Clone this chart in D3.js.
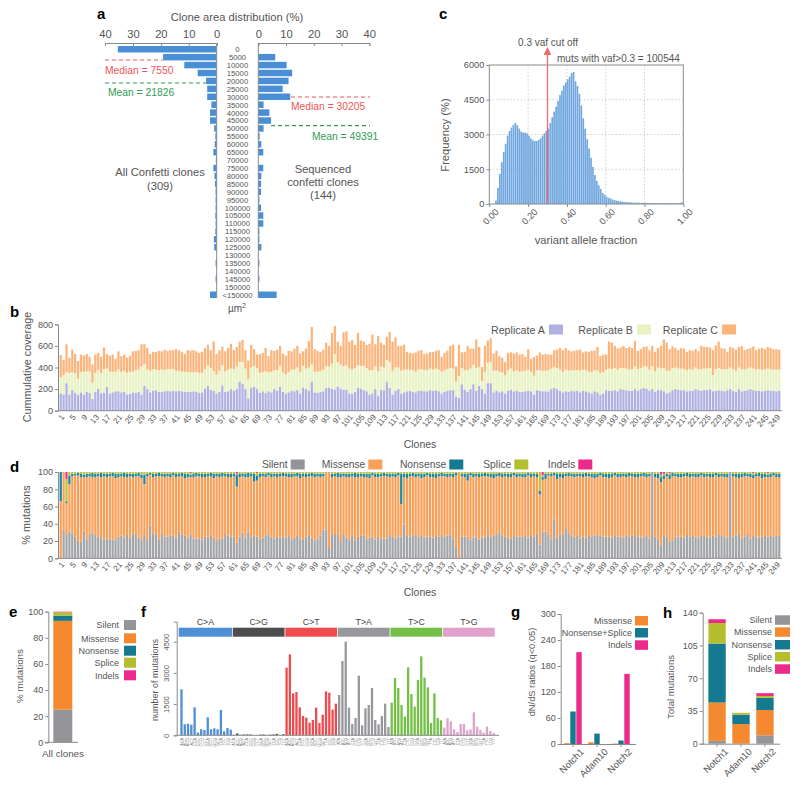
<!DOCTYPE html>
<html><head><meta charset="utf-8">
<script src="https://cdn.jsdelivr.net/npm/d3@7"></script>
<style>body{margin:0;background:#fff}svg{display:block}</style>
</head><body><svg id="fig" width="800" height="791"></svg>
<script>
// ================= DATA =================
// Panel a
const areaBins = ["0","5000","10000","15000","20000","25000","30000","35000","40000","45000","50000","55000","60000","65000","70000","75000","80000","85000","90000","95000","100000","105000","110000","115000","120000","125000","130000","135000","140000","145000","150000","<150000"];
const areaAll = [35.4,19.2,11.6,6.8,3.8,3.4,3.4,1.9,2.4,2.4,0.9,0.5,0.7,1.2,0.3,1.2,0.8,0.6,0.4,0.4,0.4,0.5,0.4,0.5,1.0,0.9,0,0.4,0,0.4,0,2.4];
const areaSeq = [0,6.1,10.2,12.2,10.9,8.8,11.5,1.9,4.0,4.6,1.9,0.5,1.1,1.8,0,1.8,1.1,1.0,1.0,0.4,1.0,1.8,1.8,0.4,0.4,1.1,0,0.4,0,0.4,0,6.6];
const areaTicks = [0,10,20,30,40];

// Panel c
const vafFreq = [0,0,0,150,700,1300,1800,2250,2600,2950,3150,3300,3420,3500,3400,3250,3120,3080,3080,3050,
2950,2830,2750,2720,2720,2760,2830,2950,3050,3150,3250,3500,3750,3990,4200,4450,4700,4900,5120,5250,
5380,5500,5650,5700,5300,5100,4750,4250,3700,3250,2800,2400,2000,1600,1250,1000,800,650,480,400,
320,270,240,200,170,150,130,110,100,90,80,75,70,65,60,60,55,55,50,50,
50,48,46,45,44,42,40,40,40,40,38,38,36,36,35,35,35,38,45,70];
const vafYTicks = [0,1500,3000,4500,6000];
const vafXTicks = [0,0.2,0.4,0.6,0.8,1.0];

// Panel b (coverage per replicate, clones 1..250)
const repA = [160,150,255,150,190,165,145,170,150,175,165,110,175,205,160,165,220,160,170,180,
180,170,175,150,155,170,165,175,150,230,200,170,185,190,175,175,180,185,180,185,
180,185,180,175,175,175,180,175,165,170,205,230,195,185,160,175,235,175,180,200,
185,200,270,250,200,115,210,220,205,165,180,165,180,170,200,185,220,175,160,170,
185,180,190,160,215,200,185,270,170,165,175,180,210,215,200,195,225,205,195,195,
160,155,175,210,205,190,180,150,160,200,135,195,190,270,210,150,185,200,160,170,
180,185,175,170,185,185,180,180,190,185,190,180,160,175,185,190,190,130,120,245,
195,175,200,245,185,230,200,160,255,255,170,185,170,180,160,185,195,180,185,175,
175,180,185,180,150,190,185,180,180,180,200,210,200,185,170,180,175,185,180,185,
170,185,180,170,160,180,170,150,160,190,185,185,190,180,200,195,190,185,185,200,
185,200,210,205,185,200,175,195,190,180,160,170,190,200,195,190,190,180,185,185,
200,190,185,195,190,200,180,185,190,185,180,190,200,185,175,200,180,185,190,200,
190,185,185,180,185,190,185,185,180,185];
const repB = [150,180,100,200,165,180,150,190,210,190,200,150,175,170,190,220,170,200,190,180,
200,190,195,200,205,190,210,205,260,200,180,200,200,190,200,205,195,200,205,200,
190,185,180,185,180,180,175,185,185,180,180,190,200,180,175,195,185,190,200,190,
200,210,180,200,190,175,190,195,190,185,175,200,175,190,175,190,195,180,175,190,
195,200,210,200,200,190,215,160,190,195,190,200,200,195,235,330,225,220,215,225,
230,225,220,210,210,225,215,225,215,210,230,215,210,200,240,220,215,200,210,210,
200,195,200,190,195,200,195,195,200,195,200,200,200,195,200,205,200,140,200,150,
180,200,190,180,210,175,75,200,190,195,200,185,190,175,170,190,195,185,190,185,
190,190,195,180,175,185,190,190,190,195,190,195,195,195,190,200,195,190,195,190,
200,195,195,190,195,195,200,200,195,190,205,200,205,200,195,200,200,195,200,210,
200,195,200,205,195,210,190,205,200,215,210,200,205,200,195,200,195,195,200,195,
200,195,200,195,200,195,150,200,205,200,200,195,200,200,195,200,205,195,200,200,
200,195,200,200,195,200,200,195,200,195];
const repC = [205,140,260,140,210,180,165,160,150,160,135,170,170,160,150,200,135,150,160,120,
170,145,150,140,150,190,180,180,205,185,200,155,160,165,180,170,190,170,175,175,
200,190,185,165,205,200,205,190,185,195,195,190,165,275,190,190,175,185,200,230,
175,180,190,205,170,175,210,155,125,175,180,215,150,200,180,190,185,175,175,195,
170,195,200,170,135,185,245,345,210,195,180,185,220,190,285,260,190,175,315,315,
250,275,215,300,235,225,215,245,330,205,325,220,210,215,280,270,280,200,230,230,
165,155,155,180,175,175,150,155,155,165,165,180,140,165,170,205,220,140,290,145,
170,225,185,150,265,185,130,240,205,220,160,185,145,135,120,160,150,165,165,160,
160,130,190,120,170,135,165,150,155,145,130,155,170,200,200,200,190,175,180,185,
195,160,175,185,200,180,220,155,165,140,250,245,205,195,190,205,190,210,195,235,
170,175,180,185,180,190,180,180,210,265,260,200,200,180,170,190,190,170,175,175,
170,165,215,200,200,190,230,220,245,195,195,160,190,195,195,190,215,180,180,180,
205,180,190,200,190,200,195,190,190,185];
const covTicks = [0,200,400,600,800];

// Panel d (% of mutations per clone)
const pSilent = [0,33,27,31,29,25,20,19,31,22,27,30,28,25,23,22,23,22,21,22,
25,26,24,28,24,28,28,24,22,28,21,38,28,27,22,29,25,25,26,26,
24,31,27,26,24,28,23,23,23,22,25,25,26,24,20,23,23,28,26,25,
25,18,25,30,24,31,25,26,25,23,24,26,27,25,23,25,24,25,24,26,
22,24,26,23,22,25,26,24,20,23,26,33,33,12,28,27,28,20,27,24,
22,26,21,25,26,26,23,24,25,22,25,23,23,23,27,25,23,25,25,39,
26,25,26,27,25,26,24,25,25,24,26,25,27,25,26,28,23,13,0,25,
25,25,22,24,25,22,24,25,27,25,26,28,30,26,25,24,23,26,25,25,
25,26,24,26,25,28,16,31,31,27,22,45,24,28,28,35,30,26,25,26,
23,25,24,26,25,26,27,26,25,25,25,24,26,25,25,24,26,25,26,27,
25,24,25,26,23,100,25,22,15,26,25,19,20,25,25,25,24,27,25,26,
25,24,26,26,25,24,26,25,27,26,25,24,100,25,26,29,24,25,28,23,
26,25,24,25,26,25,26,25,26,26];
const pMissense = [66,67,37,55,66,71,76,75,63,72,68,64,66,70,71,73,71,73,74,71,
69,69,70,66,71,66,67,71,71,58,74,59,66,68,73,66,69,70,68,70,
70,64,68,67,70,66,71,72,72,72,69,70,69,69,75,71,72,67,68,69,
70,65,69,65,70,63,70,63,65,71,71,68,69,69,72,69,71,70,71,68,
72,71,69,70,73,69,69,71,74,72,68,62,67,88,66,68,66,74,68,70,
72,69,73,69,69,68,71,69,71,72,69,72,72,72,67,70,71,71,38,55,
67,70,69,67,70,67,70,71,69,70,67,70,68,70,68,67,71,83,100,70,
69,65,74,70,70,72,71,70,68,69,67,67,65,68,70,70,71,70,69,70,
69,68,72,68,70,66,58,60,61,69,73,51,68,66,65,60,65,69,69,69,
72,69,71,69,69,67,67,70,69,69,68,70,70,69,69,71,68,70,69,67,
69,71,70,68,72,0,69,71,73,66,70,73,75,70,69,69,71,68,69,69,
69,70,70,68,70,70,68,71,67,69,69,70,0,70,68,64,70,70,67,71,
67,70,71,68,68,69,68,71,68,68];
const pNonsense = [34,0,2,10,3,2,3,4,3,4,3,5,4,3,5,3,4,3,4,5,
4,3,5,4,3,4,3,4,4,11,3,2,4,3,4,3,4,3,4,3,
4,3,4,5,4,3,4,4,3,4,4,3,4,5,3,4,4,3,4,4,
3,14,4,3,4,5,3,9,6,4,3,4,3,4,3,4,3,4,3,4,
4,3,4,5,3,4,3,4,4,3,4,3,0,0,4,3,5,4,3,4,
4,3,5,4,3,4,4,5,3,4,4,3,4,3,4,3,4,3,35,4,
5,3,4,4,3,5,4,3,4,4,5,3,4,3,4,3,4,3,0,3,
4,8,3,4,3,4,3,4,3,4,5,3,4,4,3,4,4,3,4,3,
4,4,3,4,3,4,4,3,6,2,3,3,6,4,5,3,4,3,4,3,
3,4,4,3,4,5,4,3,4,4,5,4,3,4,4,3,4,4,3,4,
4,3,4,4,3,0,4,5,6,4,3,5,4,3,4,4,3,4,4,3,
4,4,3,4,3,4,4,3,4,3,4,4,0,3,4,5,4,4,3,4,
4,3,4,5,4,3,4,3,4,4];
const pSplice = [0,0,26,4,2,2,1,2,3,2,2,1,2,2,1,2,2,2,1,2,
2,2,1,2,2,2,2,1,3,3,2,1,2,2,1,2,2,2,2,1,
2,2,1,2,2,2,2,1,2,2,2,2,1,2,2,2,1,2,2,2,
2,1,2,2,2,1,2,2,3,2,2,2,1,2,2,2,2,1,2,2,
2,2,1,2,2,2,2,1,2,2,2,2,0,0,2,2,1,2,2,2,
2,2,1,2,2,2,2,2,1,2,2,2,1,2,2,2,2,1,2,2,
2,2,1,2,2,2,2,1,2,2,2,2,1,2,2,2,2,1,0,2,
2,2,1,2,2,2,2,1,2,2,2,2,1,2,2,2,2,1,2,2,
2,2,1,2,2,2,22,2,2,2,2,1,2,2,2,2,1,2,2,2,
2,2,1,2,2,2,2,1,2,2,2,2,1,2,2,2,2,1,2,2,
2,2,1,2,2,0,2,2,3,2,2,2,1,2,2,2,2,1,2,2,
2,2,1,2,2,2,2,1,2,2,2,2,0,2,2,2,2,1,2,2,
2,2,1,2,2,2,2,1,2,2];
const pIndels = [0,0,8,0,0,0,0,0,0,0,0,0,0,0,0,0,0,0,0,0,
0,0,0,0,0,0,0,0,0,0,0,0,0,0,0,0,0,0,0,0,
0,0,0,0,0,1,0,0,0,0,0,0,0,0,0,0,0,0,0,0,
0,2,0,0,0,0,0,0,1,0,0,0,0,0,0,0,0,0,0,0,
0,0,0,0,0,0,0,0,0,0,0,0,0,0,0,0,0,0,0,0,
0,0,0,0,0,0,0,0,0,0,0,0,0,0,0,0,0,0,0,0,
0,0,0,0,0,0,0,0,0,0,0,0,0,0,0,0,0,0,0,0,
0,0,0,0,0,0,0,0,0,0,0,0,0,0,0,0,0,0,0,0,
0,0,0,0,0,0,0,4,0,0,0,0,0,0,0,0,0,0,0,0,
0,0,0,0,0,0,0,0,0,0,0,0,0,0,0,0,0,0,0,0,
0,0,0,0,0,0,0,0,3,2,0,1,0,0,0,0,0,0,0,0,
0,0,0,0,0,0,0,0,0,0,0,0,0,0,0,0,0,0,0,0,
1,0,0,0,0,1,0,0,0,0];
const pctTicks = [0,20,40,60,80,100];
const mutTypes = ["Silent","Missense","Nonsense","Splice","Indels"];

// Panel e (all clones)
const allClones = {Silent:25, Missense:68, Nonsense:4, Splice:2.6, Indels:0.4};

// Panel f
const sbsGroups = ["C>A","C>G","C>T","T>A","T>C","T>G"];
const flank5 = ["A","C","G","T"];
const flank3 = ["A","C","G","T"];
const sbsCounts = [
2210,530,560,510,1345,130,290,256,865,290,336,290,1217,190,350,270,
20,90,20,40,40,40,10,10,30,40,10,30,40,70,10,50,
3250,3890,2017,2081,1345,929,849,608,736,1329,592,993,2113,2049,1233,1521,
1937,3570,4500,1329,544,833,2866,480,1297,1457,2273,736,528,929,1521,400,
1569,2754,2273,1457,897,3266,1985,1377,2658,3794,2770,2305,592,2017,833,720,
368,817,672,288,160,544,544,240,288,1105,416,256,128,416,208,112];
const sbsTicks = [0,1500,3000,4500];

// Panel g
const genes = ["Notch1","Adam10","Notch2"];
const dndsKeys = ["Missense","Nonsense+Splice","Indels"];
const dndsMissense = [2,4,1];
const dndsTrunc = [75,24,8];
const dndsIndels = [212,0,162];
const dndsTicks = [0,60,120,180,240,300];

// Panel h
const hSilent = [3,0,9];
const hMissense = [41,21,27];
const hNonsense = [63,10,13];
const hSplice = [22,2,2];
const hIndels = [4,0,3];
const hTicks = [0,35,70,105,140];

// ================= DRAW =================
const FONT = '"Liberation Sans", Arial, Helvetica, sans-serif';
const TC = '#555';
const svg = d3.select('#fig').attr('font-family', FONT);
svg.append('rect').attr('width',800).attr('height',791).attr('fill','#fff');

const col = {Silent:'#939598', Missense:'#f5892f', Nonsense:'#15798f', Splice:'#b5be2e', Indels:'#ec2a8b'};
const colD = {Silent:'#a3a5a8', Missense:'#f8a058', Nonsense:'#1a86a0', Splice:'#b9c23a', Indels:'#ee3593'};
const intFmt = d3.format('d');

function T(x,y,s,o={}) {
  const t = svg.append('text').attr('x',x).attr('y',y).text(s)
    .attr('font-size', o.fs||11).attr('fill', o.fill||TC)
    .attr('text-anchor', o.anchor||'start');
  if (o.bold) t.attr('font-weight','bold');
  if (o.rot !== undefined) t.attr('transform', `rotate(${o.rot},${x},${y})`);
  return t;
}
function sty(g, fs) {
  g.attr('font-family', FONT).attr('font-size', fs);
  g.selectAll('text').attr('fill', TC);
  g.selectAll('path.domain, .tick line').attr('stroke', '#8a8a8a');
}
function panelLabel(x,y,s){ T(x,y,s,{fs:15,bold:true,fill:'#000'}); }

// ---------- Panel a ----------
panelLabel(97,19,'a');
T(237,21,'Clone area distribution (%)',{fs:11.2,anchor:'middle'});
const xL = d3.scaleLinear().domain([0,40]).range([216.7,105]);
const xR = d3.scaleLinear().domain([0,40]).range([258.3,369.3]);
const yA = d3.scaleBand().domain(areaBins).range([46,298]).paddingInner(0.18);
[xL,xR].forEach(s=>{
  const g = svg.append('g').attr('transform','translate(0,43)')
    .call(d3.axisTop(s).tickValues(areaTicks).tickSize(-3).tickPadding(5));
  sty(g,11.2);
});
svg.append('g').selectAll('rect').data(areaAll).join('rect')
  .attr('x',d=>xL(d)).attr('width',d=>xL(0)-xL(d))
  .attr('y',(d,i)=>yA(areaBins[i])).attr('height',yA.bandwidth()).attr('fill','#4a8fd5');
svg.append('g').selectAll('rect').data(areaSeq).join('rect')
  .attr('x',xR(0)).attr('width',d=>xR(d)-xR(0))
  .attr('y',(d,i)=>yA(areaBins[i])).attr('height',yA.bandwidth()).attr('fill','#4a8fd5');
[xL(0),xR(0)].forEach(x=>svg.append('line').attr('x1',x).attr('x2',x).attr('y1',43).attr('y2',298).attr('stroke','#8a8a8a'));
svg.append('g').selectAll('text').data(areaBins).join('text')
  .attr('x',237.5).attr('y',d=>yA(d)+yA.bandwidth()/2+2.9).attr('text-anchor','middle')
  .attr('font-size',7.7).attr('fill',TC).text(d=>d);
const RED='#f0555a', GRN='#2f9c55';
function dash(x1,x2,y,c){svg.append('line').attr('x1',x1).attr('x2',x2).attr('y1',y).attr('y2',y).attr('stroke',c).attr('stroke-width',1.2).attr('stroke-dasharray','4,3');}
dash(105,163,60,RED); T(105,74,'Median = 7550',{fs:10.3,fill:RED});
dash(105,206,83,GRN); T(108,96,'Mean = 21826',{fs:10.3,fill:GRN});
dash(291,370,97,RED); T(291,110,'Median = 30205',{fs:10.3,fill:RED});
dash(271,370,125.7,GRN); T(312,140,'Mean = 49391',{fs:10.3,fill:GRN});
T(160,176,'All Confetti clones',{fs:11.2,anchor:'middle'});
T(160,189.5,'(309)',{fs:11.2,anchor:'middle'});
T(323,172.5,'Sequenced',{fs:11.2,anchor:'middle'});
T(323,185.5,'confetti clones',{fs:11.2,anchor:'middle'});
T(323,198.5,'(144)',{fs:11.2,anchor:'middle'});
const um = T(237,312,'µm',{fs:10,anchor:'middle'});
um.append('tspan').attr('dy',-4).attr('font-size',7).text('2');

// ---------- Panel c ----------
panelLabel(439,19,'c');
const xC = d3.scaleLinear().domain([0,1]).range([489.3,683.3]);
const yC = d3.scaleLinear().domain([0,6000]).range([204,65]);
const gridC = svg.append('g');
[0.2,0.4,0.6,0.8].forEach(v=>gridC.append('line').attr('x1',xC(v)).attr('x2',xC(v)).attr('y1',65).attr('y2',204).attr('stroke','#cfcfcf').attr('stroke-dasharray','1.5,2'));
[1500,3000,4500].forEach(v=>gridC.append('line').attr('y1',yC(v)).attr('y2',yC(v)).attr('x1',489.3).attr('x2',683.3).attr('stroke','#cfcfcf').attr('stroke-dasharray','1.5,2'));
const binW = 0.01;
svg.append('g').selectAll('rect').data(vafFreq).join('rect')
  .attr('x',(d,i)=>xC(i*binW)).attr('width',xC(binW)-xC(0)-0.25)
  .attr('y',d=>yC(d)).attr('height',d=>yC(0)-yC(d)).attr('fill','#72a8df');
svg.append('rect').attr('x',489.3).attr('y',65).attr('width',194).attr('height',139).attr('fill','none').attr('stroke','#8a8a8a');
const gcy = svg.append('g').attr('transform','translate(489.3,0)').call(d3.axisLeft(yC).tickValues(vafYTicks).tickFormat(intFmt).tickSize(3).tickPadding(2));
sty(gcy,9.2); gcy.select('.domain').remove();
const gcx = svg.append('g').attr('transform','translate(0,204)').call(d3.axisBottom(xC).tickValues(vafXTicks).tickFormat(d3.format('.2f')).tickSize(3));
sty(gcx,9.2); gcx.select('.domain').remove();
gcx.selectAll('text').attr('text-anchor','end').attr('transform','translate(3,2) rotate(-45)').attr('dy','0.35em');
svg.append('defs').append('marker').attr('id','arr').attr('viewBox','0 0 10 10').attr('refX',5).attr('refY',5)
  .attr('markerWidth',6).attr('markerHeight',6).attr('orient','auto')
  .append('path').attr('d','M0,0 L10,5 L0,10 z').attr('fill','#f06b6b');
svg.append('line').attr('x1',xC(0.3)).attr('x2',xC(0.3)).attr('y1',204).attr('y2',51).attr('stroke','#f06b6b').attr('stroke-width',1.3).attr('marker-end','url(#arr)');
T(548,45.5,'0.3 vaf cut off',{fs:10,anchor:'middle'});
T(557,61.5,'muts with vaf>0.3 = 100544',{fs:10});
T(449,135,'Frequency (%)',{fs:11.2,anchor:'middle',rot:-90});
T(586,244,'variant allele fraction',{fs:11.2,anchor:'middle'});

// ---------- Panel b ----------
panelLabel(10,317,'b');
const clones = repA.map((d,i)=>i+1);
const xB = d3.scaleBand().domain(clones).range([59.6,780.4]).paddingInner(0.22);
const yB = d3.scaleLinear().domain([0,800]).range([410.7,324.3]);
const rowsB = clones.map((c,i)=>({c, A:repA[i], B:repB[i], C:repC[i]}));
const stB = d3.stack().keys(['A','B','C'])(rowsB);
const colB = {A:'#afb1e2', B:'#e8f2c2', C:'#fcb47a'};
svg.append('g').selectAll('g').data(stB).join('g').attr('fill',s=>colB[s.key])
  .selectAll('rect').data(s=>s).join('rect')
  .attr('x',d=>xB(d.data.c)).attr('width',xB.bandwidth())
  .attr('y',d=>yB(d[1])).attr('height',d=>yB(d[0])-yB(d[1]));
const gby = svg.append('g').attr('transform','translate(58,0)').call(d3.axisLeft(yB).tickValues(covTicks).tickSize(3).tickPadding(2));
sty(gby,9);
svg.append('line').attr('x1',58).attr('x2',782).attr('y1',410.7).attr('y2',410.7).attr('stroke','#8a8a8a');
const tickClones = clones.filter(c=>(c-1)%4===0);
svg.append('g').selectAll('text').data(tickClones).join('text')
  .attr('transform',c=>`translate(${xB(c)+xB.bandwidth()/2+2},${415.5}) rotate(-50)`)
  .attr('text-anchor','end').attr('dy','0.35em').attr('font-size',8).attr('fill',TC).text(c=>c);
T(31,367,'Cummulative coverage',{fs:10.8,anchor:'middle',rot:-90});
T(420,448,'Clones',{fs:10.5,anchor:'middle'});
[['Replicate A',549,'A'],['Replicate B',637,'B'],['Replicate C',722,'C']].forEach(([s,sx,k])=>{
  T(sx-4,333.5,s,{fs:10.7,anchor:'end'});
  svg.append('rect').attr('x',sx).attr('y',324.5).attr('width',14).attr('height',10).attr('fill',colB[k]);
});

// ---------- Panel d ----------
panelLabel(10,472,'d');
const yD = d3.scaleLinear().domain([0,100]).range([558.3,472]);
const rowsD = clones.map((c,i)=>({c, Silent:pSilent[i], Missense:pMissense[i], Nonsense:pNonsense[i], Splice:pSplice[i], Indels:pIndels[i]}));
const stD = d3.stack().keys(mutTypes).offset(d3.stackOffsetExpand)(rowsD);
svg.append('g').selectAll('g').data(stD).join('g').attr('fill',s=>colD[s.key])
  .selectAll('rect').data(s=>s).join('rect')
  .attr('x',d=>xB(d.data.c)).attr('width',xB.bandwidth())
  .attr('y',d=>yD(d[1]*100)).attr('height',d=>yD(d[0]*100)-yD(d[1]*100));
const gdy = svg.append('g').attr('transform','translate(58,0)').call(d3.axisLeft(yD).tickValues(pctTicks).tickSize(3).tickPadding(2));
sty(gdy,9);
svg.append('line').attr('x1',58).attr('x2',782).attr('y1',558.3).attr('y2',558.3).attr('stroke','#8a8a8a');
svg.append('g').selectAll('text').data(tickClones).join('text')
  .attr('transform',c=>`translate(${xB(c)+xB.bandwidth()/2+2},${563}) rotate(-50)`)
  .attr('text-anchor','end').attr('dy','0.35em').attr('font-size',8).attr('fill',TC).text(c=>c);
T(30,515,'% mutations',{fs:10.8,anchor:'middle',rot:-90});
T(420,596,'Clones',{fs:10.5,anchor:'middle'});
[['Silent',290.7],['Missense',368.3],['Nonsense',449.3],['Splice',514.3],['Indels',578.3]].forEach(([s,sx])=>{
  T(sx-3,468,s,{fs:10.3,anchor:'end'});
  svg.append('rect').attr('x',sx).attr('y',459.5).attr('width',14).attr('height',10).attr('fill',s==='Missense'?'#f9a15a':col[s]);
});

// ---------- Panel e ----------
panelLabel(9,617,'e');
const yE = d3.scaleLinear().domain([0,100]).range([742.3,611.7]);
const stE = d3.stack().keys(mutTypes)([allClones]);
svg.append('g').selectAll('rect').data(stE).join('rect')
  .attr('x',53.3).attr('width',19).attr('fill',s=>col[s.key])
  .attr('y',s=>yE(s[0][1])).attr('height',s=>yE(s[0][0])-yE(s[0][1]));
const gey = svg.append('g').attr('transform','translate(48.3,0)').call(d3.axisLeft(yE).tickValues(pctTicks).tickSize(3).tickPadding(2));
sty(gey,9);
svg.append('line').attr('x1',45).attr('x2',78).attr('y1',742.3).attr('y2',742.3).attr('stroke','#8a8a8a');
T(63,757,'All clones',{fs:9.8,anchor:'middle'});
T(23,676,'% mutations',{fs:9.8,anchor:'middle',rot:-90});
mutTypes.forEach((s,i)=>{
  const cy = [625,638.3,650.7,662.7,675.3][i];
  T(119,cy+3.2,s,{fs:9,anchor:'end'});
  svg.append('rect').attr('x',124).attr('y',cy-5).attr('width',12).attr('height',10).attr('fill',col[s]);
});

// ---------- Panel f ----------
panelLabel(141,617,'f');
const sbsColors = ['#4f8fd6','#4d4d4f','#ef4b4f','#97989b','#74bf45','#e0a1cd'];
const sbsRows = [];
sbsGroups.forEach((g,gi)=>flank5.forEach(a=>flank3.forEach(b=>sbsRows.push({g, gi, ctx:a+g[0]+b, key:g+a+b}))));
sbsRows.forEach((r,i)=>r.v=sbsCounts[i]);
const xF = d3.scaleBand().domain(sbsRows.map(r=>r.key)).range([180,495]).paddingInner(0.3).paddingOuter(0.1);
const yF = d3.scaleLinear().domain([0,5460]).range([735.3,621.7]);
svg.append('g').selectAll('rect').data(sbsRows).join('rect')
  .attr('x',r=>xF(r.key)).attr('width',xF.bandwidth())
  .attr('y',r=>yF(r.v)).attr('height',r=>yF(0)-yF(r.v)).attr('fill',r=>sbsColors[r.gi]);
sbsGroups.forEach((g,gi)=>{
  const first = xF(g+'AA'), last = xF(g+'TT')+xF.bandwidth();
  const x0 = first - xF.step()*xF.paddingInner()/2 - (gi===0?1.5:0);
  const x1 = last + xF.step()*xF.paddingInner()/2;
  svg.append('rect').attr('x',x0+0.4).attr('width',x1-x0-0.8).attr('y',627.7).attr('height',9).attr('fill',sbsColors[gi]);
  T((x0+x1)/2,625,g,{fs:8.8,anchor:'middle',fill:'#444'});
});
const gfy = svg.append('g').attr('transform','translate(176.7,0)').call(d3.axisLeft(yF).tickValues(sbsTicks).tickFormat(intFmt).tickSize(3).tickPadding(2));
sty(gfy,7.5);
gfy.selectAll('.tick text').attr('text-anchor','middle').attr('transform','translate(-8,0) rotate(-90)').attr('x',0).attr('dy','0');
svg.append('line').attr('x1',176.7).attr('x2',499).attr('y1',735.3).attr('y2',735.3).attr('stroke','#8a8a8a');
svg.append('g').selectAll('text').data(sbsRows).join('text')
  .attr('transform',r=>`translate(${xF(r.key)+xF.bandwidth()/2+1.3},738) rotate(-90)`)
  .attr('text-anchor','end').attr('font-size',3.8).attr('fill','#777').text(r=>r.ctx);
T(158,680,'number of mutations',{fs:9,anchor:'middle',rot:-90});

// ---------- Panel g ----------
panelLabel(511,617,'g');
const xG = d3.scaleBand().domain(genes).range([561,633]);
const xGi = d3.scaleBand().domain(dndsKeys).range([3,21]);
const yG = d3.scaleLinear().domain([0,300]).range([744,614]);
const colG = {"Missense":col.Missense,"Nonsense+Splice":col.Nonsense,"Indels":col.Indels};
const rowsG = genes.map((g,i)=>({g, "Missense":dndsMissense[i], "Nonsense+Splice":dndsTrunc[i], "Indels":dndsIndels[i]}));
rowsG.forEach(r=>dndsKeys.forEach(k=>{
  svg.append('rect').attr('x',xG(r.g)+xGi(k)+0.3).attr('width',xGi.bandwidth()-0.6)
    .attr('y',yG(r[k])).attr('height',yG(0)-yG(r[k])).attr('fill',colG[k]);
}));
const ggy = svg.append('g').attr('transform','translate(560.7,0)').call(d3.axisLeft(yG).tickValues(dndsTicks).tickSize(3).tickPadding(2));
sty(ggy,9);
const ggx = svg.append('g').attr('transform','translate(0,744)').call(d3.axisBottom(xG).tickSize(3).tickSizeOuter(0));
sty(ggx,9.5); ggx.select('.domain').attr('d','M560.7,0.5H636');
ggx.selectAll('text').attr('text-anchor','end').attr('transform','translate(4,1) rotate(-45)').attr('dy','0.5em');
T(535,672,'dN/dS ratios (q<0.05)',{fs:9.3,anchor:'middle',rot:-90});
dndsKeys.forEach((k,i)=>{
  const cy=[620.7,632.7,645][i];
  T(632,cy+3.3,k,{fs:9,anchor:'end'});
  svg.append('rect').attr('x',635).attr('y',cy-4.7).attr('width',13).attr('height',9.5).attr('fill',colG[k]);
});

// ---------- Panel h ----------
panelLabel(663,618,'h');
const xH = d3.scaleBand().domain(genes).range([705,777]).paddingInner(0.275).paddingOuter(0.14);
const yH = d3.scaleLinear().domain([0,140]).range([743.7,612.7]);
const rowsH = genes.map((g,i)=>({g, Silent:hSilent[i], Missense:hMissense[i], Nonsense:hNonsense[i], Splice:hSplice[i], Indels:hIndels[i]}));
const stH = d3.stack().keys(mutTypes)(rowsH);
svg.append('g').selectAll('g').data(stH).join('g').attr('fill',s=>col[s.key])
  .selectAll('rect').data(s=>s).join('rect')
  .attr('x',d=>xH(d.data.g)).attr('width',xH.bandwidth())
  .attr('y',d=>yH(d[1])).attr('height',d=>yH(d[0])-yH(d[1]));
const ghy = svg.append('g').attr('transform','translate(702.7,0)').call(d3.axisLeft(yH).tickValues(hTicks).tickSize(3).tickPadding(2));
sty(ghy,9);
const ghx = svg.append('g').attr('transform','translate(0,743.7)').call(d3.axisBottom(xH).tickSize(3).tickSizeOuter(0));
sty(ghx,9.5); ghx.select('.domain').attr('d','M702.7,0.5H780');
ghx.selectAll('text').attr('text-anchor','end').attr('transform','translate(4,1) rotate(-45)').attr('dy','0.5em');
T(674,687,'Total mutations',{fs:9.5,anchor:'middle',rot:-90});
mutTypes.forEach((s,i)=>{
  const cy=[620,632,644.7,656.7,669][i];
  T(772,cy+3.3,s,{fs:9,anchor:'end'});
  svg.append('rect').attr('x',775).attr('y',cy-4.7).attr('width',15).attr('height',9.5).attr('fill',col[s]);
});
</script></body></html>
